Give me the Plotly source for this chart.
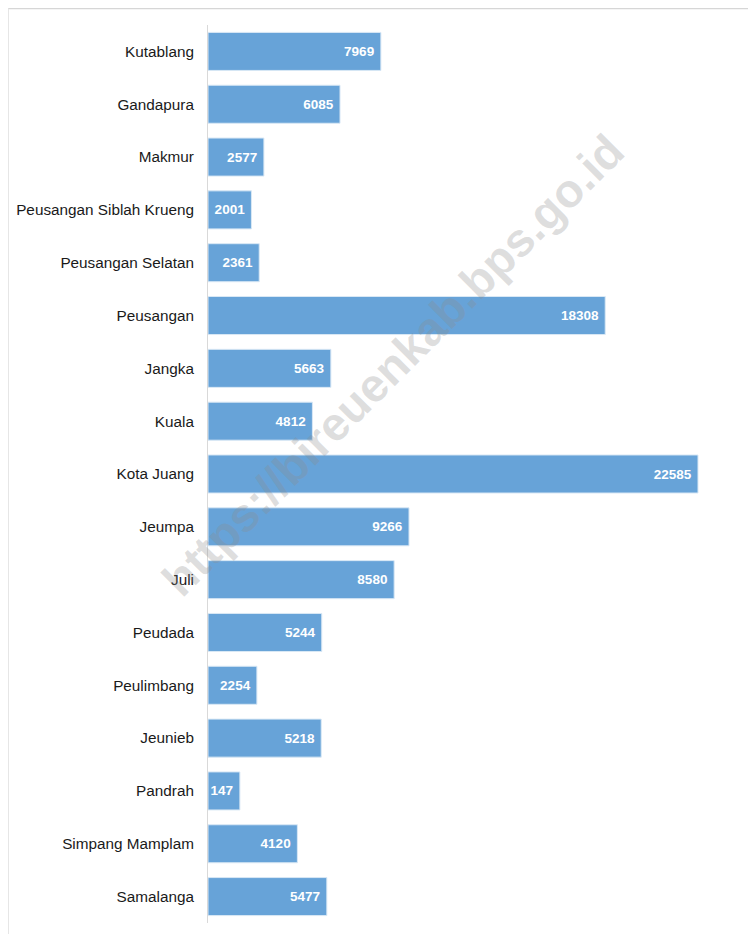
import plotly.graph_objects as go

categories = ["Kutablang", "Gandapura", "Makmur", "Peusangan Siblah Krueng",
              "Peusangan Selatan", "Peusangan", "Jangka", "Kuala", "Kota Juang",
              "Jeumpa", "Juli", "Peudada", "Peulimbang", "Jeunieb", "Pandrah",
              "Simpang Mamplam", "Samalanga"]
values = [7969, 6085, 2577, 2001, 2361, 18308, 5663, 4812, 22585,
          9266, 8580, 5244, 2254, 5218, 1470, 4120, 5477]
labels = ["7969", "6085", "2577", "2001", "2361", "18308", "5663", "4812", "22585",
          "9266", "8580", "5244", "2254", "5218", "147", "4120", "5477"]

# page body has an 8px margin; figure coordinates = page coordinates - 8
W, H = 748, 926
ml, mr, mt, mb = 200, 16, 17, 11
pw, ph = W - ml - mr, H - mt - mb
xmax = 22585 * pw / 490

FONT = "Liberation Sans Narrow, Arial Narrow, Liberation Sans, Arial"


def px(x):
    return (x - 8 - ml) / pw


def py(y):
    return (H - mb - (y - 8)) / ph


fig = go.Figure(go.Bar(
    y=categories, x=values, orientation="h",
    text=[t + "\u00a0" for t in labels],
    textposition="inside", insidetextanchor="end",
    textangle=0,
    textfont=dict(family=FONT, size=13.5, color="white", weight="bold"),
    marker=dict(color="#67a3d8", line=dict(color="#d9e8f5", width=1)),
    cliponaxis=False,
))

fig.update_layout(
    width=W, height=H,
    margin=dict(l=ml, r=mr, t=mt, b=mb, autoexpand=False),
    plot_bgcolor="white", paper_bgcolor="white",
    bargap=0.28, showlegend=False,
    uniformtext=dict(minsize=13.5, mode="show"),
    xaxis=dict(range=[0, xmax], visible=False, fixedrange=True),
    yaxis=dict(autorange="reversed", automargin=False, showline=True,
               linecolor="#d9d9d9", linewidth=1,
               showgrid=False, ticks="", ticklabelstandoff=10,
               tickfont=dict(family=FONT, size=15.3, color="#1a1a1a")),
    annotations=[dict(
        text="https://bireuenkab.bps.go.id", xref="paper", yref="paper",
        x=px(392), y=py(365),
        showarrow=False, textangle=-45,
        font=dict(family="Liberation Sans, Arial", size=47, color="rgba(140,140,140,0.28)",
                  weight="bold"),
    )],
    shapes=[
        dict(type="line", xref="paper", yref="paper",
             x0=px(7), x1=px(W + 20), y0=py(8.5), y1=py(8.5),
             line=dict(color="#d6d6d6", width=1.5)),
        dict(type="line", xref="paper", yref="paper",
             x0=px(8.5), x1=px(8.5), y0=py(8.5), y1=py(H + 20),
             line=dict(color="#e6e6e6", width=1)),
    ],
)

fig.write_html("out.html")
